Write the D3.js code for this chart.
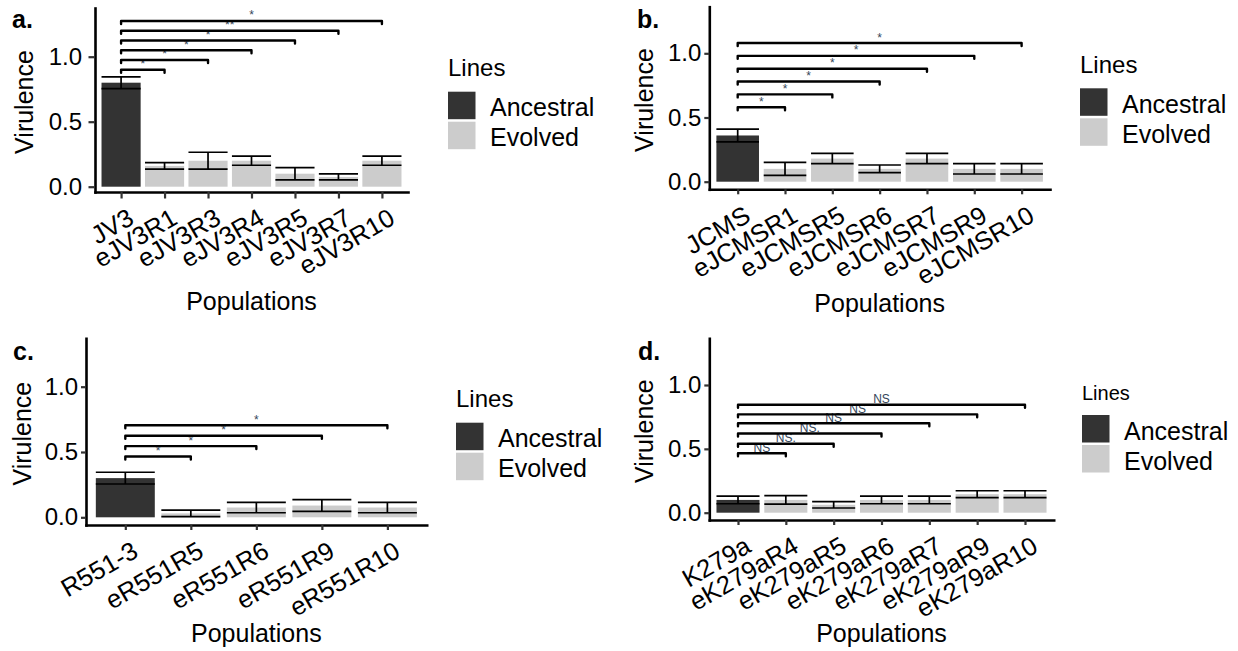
<!DOCTYPE html>
<html>
<head>
<meta charset="utf-8">
<script src="https://cdn.jsdelivr.net/npm/d3@7"></script>
<style>
  body { margin: 0; background: #fff; }
  svg { display: block; }
  text { font-family: "Liberation Sans", Arial, sans-serif; }
</style>
</head>
<body>
<svg id="chart" width="1238" height="651"></svg>
<script>
// ---- Panel a: JV3 and its evolved lines ----
const catsA = ["JV3", "eJV3R1", "eJV3R3", "eJV3R4", "eJV3R5", "eJV3R7", "eJV3R10"];
const meanA = [0.80, 0.16, 0.20, 0.20, 0.10, 0.075, 0.20];
const seA   = [0.045, 0.025, 0.065, 0.035, 0.047, 0.023, 0.035];
const sigYA = [0.90, 0.975, 1.05, 1.125, 1.20, 1.275];
const sigLabA = ["*", "*", "*", "*", "**", "*"];

// ---- Panel b: JCMS ----
const catsB = ["JCMS", "eJCMSR1", "eJCMSR5", "eJCMSR6", "eJCMSR7", "eJCMSR9", "eJCMSR10"];
const meanB = [0.36, 0.10, 0.18, 0.10, 0.18, 0.10, 0.10];
const seB   = [0.05, 0.05, 0.04, 0.03, 0.04, 0.04, 0.04];
const sigYB = [0.58, 0.68, 0.78, 0.88, 0.98, 1.08];
const sigLabB = ["*", "*", "*", "*", "*", "*"];

// ---- Panel c: R551-3 ----
const catsC = ["R551-3", "eR551R5", "eR551R6", "eR551R9", "eR551R10"];
const meanC = [0.30, 0.03, 0.075, 0.09, 0.075];
const seC   = [0.045, 0.025, 0.04, 0.045, 0.04];
const sigYC = [0.465, 0.545, 0.625, 0.705];
const sigLabC = ["*", "*", "*", "*"];

// ---- Panel d: K279a ----
const catsD = ["K279a", "eK279aR4", "eK279aR5", "eK279aR6", "eK279aR7", "eK279aR9", "eK279aR10"];
const meanD = [0.10, 0.10, 0.062, 0.10, 0.10, 0.145, 0.145];
const seD   = [0.03, 0.033, 0.025, 0.03, 0.03, 0.027, 0.027];
const sigYD = [0.465, 0.54, 0.62, 0.70, 0.77, 0.845];
const sigLabD = ["NS", "NS.", "NS.", "NS", "NS", "NS"];

// shared axis ticks and legend
const yTicks = [0, 0.5, 1.0];
const lineGroups = ["Ancestral", "Evolved"];
const groupFill = { Ancestral: "#333333", Evolved: "#cccccc" };

// frame of each panel on the page
const panels = [
  { tag: "a.", cats: catsA, mean: meanA, se: seA, sigY: sigYA, sigLab: sigLabA,
    left: 95, right: 408, top: 8, bottom: 192, zero: 186.7, one: 56.7,
    tick: 6.5, pad: 6.5, tagX: 12, tagY: 28, yTitleX: 33, xTitleY: 310,
    legend: { x: 448, keyTop: 91.7, titleSize: 24 } },
  { tag: "b.", cats: catsB, mean: meanB, se: seB, sigY: sigYB, sigLab: sigLabB,
    left: 709.3, right: 1050, top: 6.7, bottom: 189.3, zero: 181.7, one: 53.3,
    tick: 5, pad: 3, tagX: 637, tagY: 28, yTitleX: 653, xTitleY: 311.7,
    legend: { x: 1080, keyTop: 88.3, titleSize: 24 } },
  { tag: "c.", cats: catsC, mean: meanC, se: seC, sigY: sigYC, sigLab: sigLabC,
    left: 86, right: 426.7, top: 338.3, bottom: 525, zero: 517.3, one: 386.7,
    tick: 5, pad: 3, tagX: 13, tagY: 360, yTitleX: 31, xTitleY: 641.7,
    legend: { x: 456, keyTop: 422.7, titleSize: 24 } },
  { tag: "d.", cats: catsD, mean: meanD, se: seD, sigY: sigYD, sigLab: sigLabD,
    left: 709.3, right: 1053.7, top: 338.3, bottom: 520, zero: 512.7, one: 385,
    tick: 5, pad: 3, tagX: 638, tagY: 360, yTitleX: 653, xTitleY: 641.7,
    legend: { x: 1082, keyTop: 415, titleSize: 20 } }
];

const svg = d3.select("#chart");

function drawPanel(p) {
  const g = svg.append("g");
  const x = d3.scalePoint().domain(p.cats).range([p.left, p.right]).padding(0.6);
  const base = d3.scaleLinear().domain([0, 1]).range([p.zero, p.one]);
  const y = base.copy().domain([base.invert(p.bottom), base.invert(p.top)]).range([p.bottom, p.top]);
  const bw = x.step() * 0.9;
  const rows = p.cats.map((c, i) => ({ c, i, m: p.mean[i], s: p.se[i], grp: i === 0 ? "Ancestral" : "Evolved" }));

  // bars
  g.append("g").selectAll("rect").data(rows).join("rect")
    .attr("x", d => x(d.c) - bw / 2)
    .attr("width", bw)
    .attr("y", d => y(d.m))
    .attr("height", d => y(0) - y(d.m))
    .attr("fill", d => groupFill[d.grp]);

  // error bars with full-width caps
  const eb = g.append("g").attr("stroke", "#000").attr("stroke-width", 1.7).attr("fill", "none");
  eb.selectAll("path").data(rows).join("path")
    .attr("d", d => {
      const xl = x(d.c) - bw / 2, xr = x(d.c) + bw / 2, xc = x(d.c);
      const yh = y(d.m + d.s), yl = y(d.m - d.s);
      return `M${xl},${yh}H${xr}M${xl},${yl}H${xr}M${xc},${yh}V${yl}`;
    });

  // significance brackets against the ancestor
  const tip = 3;
  const br = g.append("g");
  const x0 = x(p.cats[0]);
  p.sigY.forEach((v, j) => {
    const x1 = x(p.cats[j + 1]);
    const yy = y(v);
    br.append("path")
      .attr("d", `M${x0},${yy + tip}V${yy}H${x1}V${yy + tip}`)
      .attr("fill", "none").attr("stroke", "#000").attr("stroke-width", 2.4)
      .attr("stroke-linecap", "round").attr("stroke-linejoin", "round");
    br.append("text")
      .attr("x", (x0 + x1) / 2).attr("y", yy - 1.5)
      .attr("text-anchor", "middle")
      .attr("font-size", 12).attr("fill", "#34465a")
      .text(p.sigLab[j]);
  });

  // y axis
  const ya = g.append("g").attr("transform", `translate(${p.left},0)`)
    .call(d3.axisLeft(y).tickValues(yTicks).tickFormat(d3.format(".1f"))
      .tickSize(p.tick).tickSizeOuter(0).tickPadding(p.pad));
  // x axis
  const xa = g.append("g").attr("transform", `translate(0,${p.bottom})`)
    .call(d3.axisBottom(x).tickSize(p.tick).tickSizeOuter(0));

  [ya, xa].forEach(a => {
    a.select(".domain").attr("stroke", "#000").attr("stroke-width", 2.6).attr("stroke-linecap", "square");
    a.selectAll(".tick line").attr("stroke", "#333").attr("stroke-width", 2.2);
    a.selectAll(".tick text").attr("fill", "#000").attr("font-size", 24)
      .attr("font-family", '"Liberation Sans", Arial, sans-serif');
  });
  xa.selectAll(".tick text")
    .attr("font-size", 25.5)
    .attr("y", null).attr("dy", null)
    .attr("text-anchor", "end")
    .attr("transform", "translate(14,31) rotate(-30)");

  // axis titles
  g.append("text")
    .attr("x", (p.left + p.right) / 2).attr("y", p.xTitleY)
    .attr("text-anchor", "middle").attr("font-size", 25)
    .text("Populations");
  g.append("text")
    .attr("transform", `translate(${p.yTitleX},${(p.top + p.bottom) / 2 + 2}) rotate(-90)`)
    .attr("text-anchor", "middle").attr("font-size", 25)
    .text("Virulence");

  // panel tag
  g.append("text").attr("x", p.tagX).attr("y", p.tagY)
    .attr("font-size", 25).attr("font-weight", "bold").text(p.tag);

  // legend
  const L = p.legend, key = 27.5, stepK = 30;
  const lg = g.append("g");
  lg.append("text").attr("x", L.x).attr("y", L.keyTop - 15.5)
    .attr("font-size", L.titleSize).text("Lines");
  lineGroups.forEach((name, k) => {
    const ky = L.keyTop + k * stepK;
    lg.append("rect").attr("x", L.x).attr("y", ky).attr("width", key).attr("height", key)
      .attr("fill", groupFill[name]);
    lg.append("text").attr("x", L.x + 42).attr("y", ky + key / 2 + 11)
      .attr("font-size", 25).text(name);
  });
}

panels.forEach(drawPanel);
</script>
</body>
</html>
